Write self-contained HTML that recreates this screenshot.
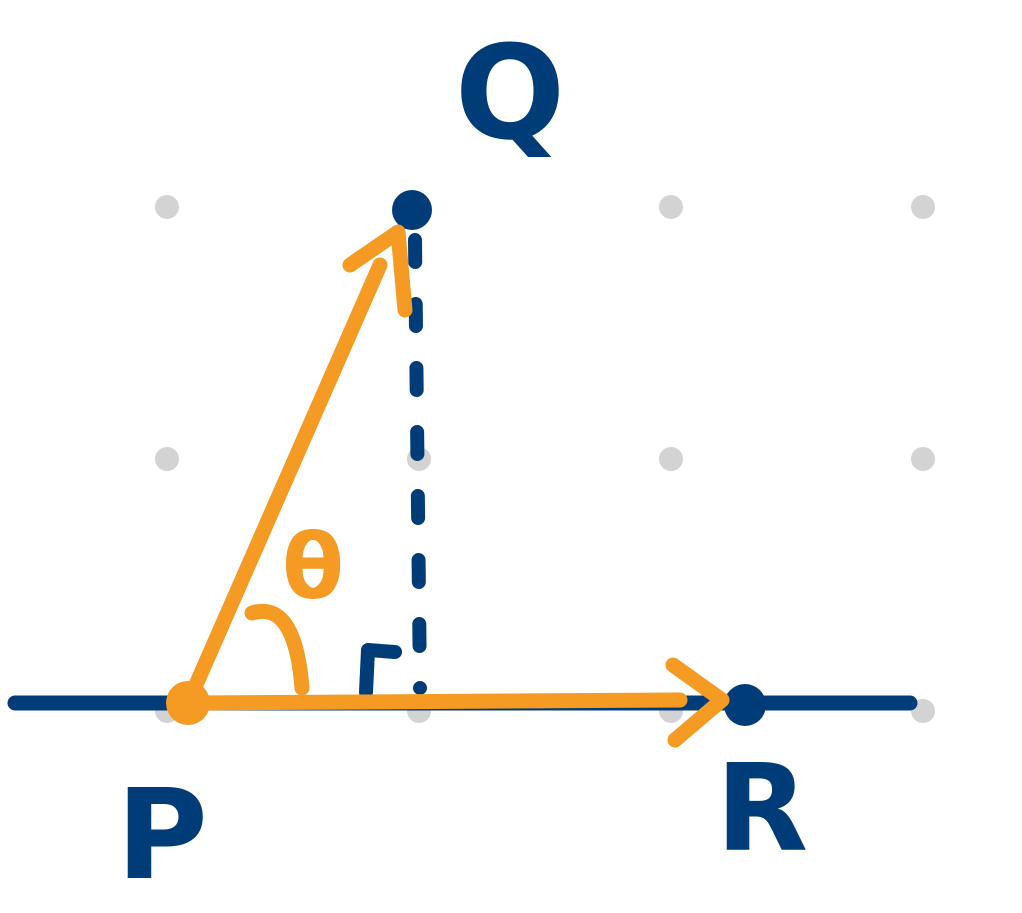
<!DOCTYPE html>
<html><head><meta charset="utf-8"><style>
html,body{margin:0;padding:0;background:#fff;width:1022px;height:913px;overflow:hidden}
svg{display:block}
text{font-family:"DejaVu Sans","Liberation Sans",sans-serif;font-weight:bold}
</style></head><body>
<svg id="s" width="1022" height="913" viewBox="0 0 1022 913"></svg>
<script>
const gridXs=[167,419,671,923];
const gridYs=[207,459,711];
const pointP=[188,703];
const pointQ=[412,210];
const pointR=[745,705];
const NAVY="#003d78", ORANGE="#f59a23";
const s=document.getElementById('s');
const NS="http://www.w3.org/2000/svg";
function mk(tag,attrs,name){const e=document.createElementNS(NS,tag);for(const k in attrs)e.setAttribute(k,attrs[k]);


s.appendChild(e);return e;}
gridYs.forEach((y,j)=>gridXs.forEach((x,i)=>{mk('circle',{cx:x,cy:y,r:12,fill:'#d3d3d3'},'grid-dot');}));
mk('line',{x1:15,y1:703,x2:910,y2:703,stroke:NAVY,'stroke-width':15,'stroke-linecap':'round'},'baseline');
mk('path',{d:`M${pointQ[0]+3} 240 L${pointQ[0]+8} 688`,stroke:NAVY,'stroke-width':14,'stroke-linecap':'round','stroke-dasharray':'22 42',fill:'none'},'perpendicular-dashed');
mk('circle',{cx:pointQ[0],cy:pointQ[1],r:20,fill:NAVY},'point-q');
mk('circle',{cx:pointR[0],cy:pointR[1],r:21,fill:NAVY},'point-r');
mk('path',{d:'M366 692 L368 650 L395 652',stroke:NAVY,'stroke-width':14,'stroke-linecap':'round','stroke-linejoin':'round',fill:'none'},'right-angle-mark');
mk('line',{x1:pointP[0],y1:pointP[1],x2:680,y2:pointP[1]-3,stroke:ORANGE,'stroke-width':15,'stroke-linecap':'round'},'vector-pr');
mk('path',{d:'M673 665 L722 700 L675 740',stroke:ORANGE,'stroke-width':15,'stroke-linecap':'round','stroke-linejoin':'round',fill:'none'},'arrowhead-pr');
mk('line',{x1:pointP[0],y1:pointP[1],x2:380,y2:265,stroke:ORANGE,'stroke-width':15,'stroke-linecap':'round'},'vector-pq');
mk('path',{d:'M350 265 L398 232 L405 310',stroke:ORANGE,'stroke-width':15,'stroke-linecap':'round','stroke-linejoin':'round',fill:'none'},'arrowhead-pq');
mk('circle',{cx:pointP[0],cy:pointP[1],r:22,fill:ORANGE},'point-p');
mk('path',{d:'M252 613 Q295 600 302 688',stroke:ORANGE,'stroke-width':15,'stroke-linecap':'round',fill:'none'},'angle-arc');
function lab(t,x,y,size,col,name){const e=mk('text',{x:x,y:y,'font-size':size,fill:col,'text-anchor':'middle'},name);e.textContent=t;}
lab('Q',510,138,130,NAVY,'label-q');
lab('P',162,878,125,NAVY,'label-p');
lab('R',762,850,120,NAVY,'label-r');
lab('θ',313,598,90,ORANGE,'label-theta');
</script>
</body></html>
